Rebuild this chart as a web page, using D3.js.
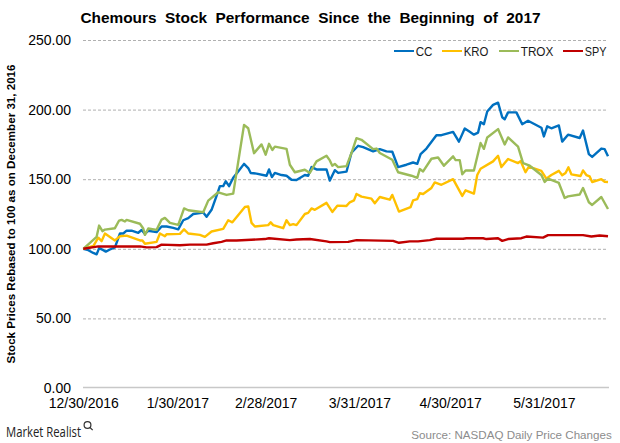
<!DOCTYPE html>
<html><head><meta charset="utf-8">
<script src="https://cdnjs.cloudflare.com/ajax/libs/d3/7.8.5/d3.min.js"></script>
<style>
html,body{margin:0;padding:0;background:#fff}
svg{display:block;font-family:"Liberation Sans",Arial,sans-serif}
</style></head><body><svg id="c" width="620" height="443"></svg>
<script>
const titleText="Chemours  Stock  Performance  Since  the  Beginning  of  2017";
const yTitle="Stock Prices Rebased to 100 as on December 31, 2016";
const sourceText="Source: NASDAQ Daily Price Changes";
const logoText="Market Realist";
const seriesNames=["CC","KRO","TROX","SPY"];
const seriesColors=["#0070c0","#ffc000","#9bbb59","#c00000"];
const yTicks=[0,50,100,150,200,250];
const tickSessions=[0,22.6,43.8,66.3,88.1,110.6];
const tickLabels=["12/30/2016","1/30/2017","2/28/2017","3/31/2017","4/30/2017","5/31/2017"];

const ccSessions=[0,1.2,2.4,3.2,3.8,4.8,5.4,6.4,7.6,8.8,9.6,10.4,11.6,13.2,14,14.8,15.6,17.6,18.8,20,21.6,22.8,24,25.2,26.4,28.8,29.6,30.8,32,32.8,33.6,34.2,35,36,37.2,38.6,39.6,40.2,41.6,44,44.6,45.3,46,47.6,48.8,50,51.2,53.2,54,54.8,56,58.4,59.2,60.4,61.2,63.2,64.4,66,67.2,69.6,71.2,72.8,74.2,75.6,77.6,79.2,80.2,81,82.4,84.8,86,88.8,90.2,91.6,92.8,93.8,94.8,95.4,96.2,97,98.4,99.6,100.6,101.2,102,104,105.4,106.8,110,110.6,111.4,112.4,114.2,115,116.4,119.2,120,121.4,122.2,124.4,125.2,126];
const ccValues=[100,99,97,96,100.5,99,98,99.5,101,111,111,113,113,111.5,113.5,110.7,113,112,116,116,115,114,120.5,122,125,126,123,128,138,145,145,148.5,145,151,155.6,161,158,154.5,154,152.5,157,151.5,154.5,153,152.5,149.6,149.4,153,152.5,158.7,157,157,149,156.5,154.5,155.4,169,174,173,170,171.6,170,169.7,158.7,160.4,162,161,168,172,181.6,181.6,184,177,186.4,184,182,183.5,191,189.5,198.6,203.4,205,194.5,193,198,198,189.5,192,187,180.7,188,186.6,188.6,177,182,179.6,185,168,166,172,171.6,166.4];

const kroSessions=[0,2.4,3.6,4.4,5.2,7.6,8.8,10.4,13.6,14.2,14.8,17.6,18.4,19.6,20,23.2,24.2,25.2,28,29.2,30.8,33.6,34.8,35.8,38.8,39.6,40.4,41.2,44.4,45,45.6,48,48.8,49.6,50.4,51.2,53.2,54,54.8,55.6,58.4,59.8,61,63.2,64,65,65.6,66.8,69.2,70,71.2,73.6,74.2,75.8,78.6,79.2,80.2,80.8,81.6,83.6,84.4,86,88.8,91,91.8,93.8,94.6,95.4,98.4,99.6,100.4,102,104.4,105,106.2,107,110,111.2,112.4,114.2,115,115.8,116.5,117.2,119.4,120,120.8,121.6,122.2,124.4,125.2,126];
const kroValues=[100,102,108,105.5,111,106,109,109.5,106,106,103.6,105,111,109,110.5,110.7,114,111,110,108.6,112.4,114.3,120.5,119,130,130.5,118.6,116,117,119,117,114.8,120.5,117,117.7,117,125,125.8,129,128,133,126.5,131,130.8,133.4,134.8,139.4,137.5,136,132.7,137.2,135.3,138.7,126.7,130,134.8,135.7,139.9,139.4,143.7,147.7,146,150,138,142,139.6,153,157.5,162.8,166.8,158.7,164.5,161.6,163,155,159,156,150.4,153,156,152.8,154.5,158.5,153.5,152.3,156.3,153,152,148,150,148.2,148];

const troxSessions=[0,3.2,3.8,4.6,5.2,7.6,8.6,9.2,10,10.4,13.6,14.4,14.8,15.6,17.6,18.8,19.6,20.8,22.8,24.2,25.2,28.8,30,32.4,34.4,36,38.6,39.6,41,42.8,43.8,44.6,45.4,46,48.8,49.6,50.8,53.2,54.4,56,58.4,59.2,59.8,60.4,61.2,63.2,64.4,65.6,66.8,69.6,70.4,71.2,74.2,75.6,78.8,80.2,80.8,81.6,83.6,85.2,86.6,88.8,89.4,90.4,91,91.8,93.8,95.4,96.2,97,99.6,101.2,102,104.4,105.6,107.2,110,110.8,111.6,114.2,115.6,116.4,119.2,120,121.4,122.2,124.4,126];
const troxValues=[100,108.6,116.7,112.7,113.8,114.8,120.3,120.8,119.6,120.8,118,114.6,110,114.6,113.6,121,122.2,118.6,117.2,129,127.7,126.3,134.6,140.6,138.7,139.6,189,186.6,168.7,175,167.6,175.4,171,173.4,171.8,160.4,155,156.8,154.5,162.8,166.8,163.5,159.7,161,158.7,159.4,168.8,179.5,178.3,171.6,172,168.8,164,155,152.5,151,157.3,155.6,164.7,165.6,159.7,166.4,163.7,163.7,153.5,156.3,156.3,176,171.8,180,186,175,180,173.4,161.6,159.7,153,148,150.4,147.3,136.5,137.7,139,143.7,133.4,131.5,137.2,128.6];

const spySessions=[0,3.6,13.6,15.2,17.6,18.8,23.2,25.6,29.6,31.2,33.2,34.4,36.8,43.6,44.6,49.6,51.2,54.4,58.4,59.2,63.6,65.6,74.4,75.8,78.4,80.4,83.2,84.8,91.2,92,96,96.8,99.6,100.6,102,105.2,106.4,110.4,111.6,120,122,124,126];
const spyValues=[100,101.7,101.7,101,101.2,103,102.6,103,103,104,105,106,106,107,107.6,106.2,106.7,107,105.3,104.8,105,106.2,105.7,104.3,105.3,105.3,106.2,107.2,107.2,107.6,107.6,107,107.6,105.7,107,107.6,108.8,108,109.8,109.8,108.8,109.6,109];

const svg=d3.select("#c");
const x=d3.scaleLinear().domain([0,126]).range([83.3,608]);
const y=d3.scaleLinear().domain([0,250]).range([388,40]);

svg.append("text").attr("x",310.5).attr("y",22.5).attr("text-anchor","middle")
  .attr("font-size",15.4).attr("font-weight","bold").attr("fill","#000").style("white-space","pre").text(titleText);

const ya=svg.append("g").attr("transform","translate(83,0)")
  .call(d3.axisLeft(y).tickValues(yTicks).tickFormat(d3.format(".2f")).tickSize(0).tickPadding(12));
ya.select(".domain").remove();
ya.selectAll("text").attr("font-size",14).attr("font-family","Liberation Sans").attr("fill","#000");

const grid=svg.append("g").attr("transform","translate(83,0)")
  .call(d3.axisLeft(y).tickValues(yTicks.filter(d=>d>0)).tickFormat("").tickSize(-525));
grid.select(".domain").remove();
grid.selectAll("line").attr("stroke","#b0b0b0").attr("stroke-width",1).attr("stroke-dasharray","3 2");

const xa=svg.append("g").attr("transform","translate(0,387.5)")
  .call(d3.axisBottom(x).tickValues(tickSessions).tickFormat((d,i)=>tickLabels[i]).tickSize(0).tickPadding(11));
xa.select(".domain").attr("stroke","#c8c8c8").attr("stroke-width",1.5).attr("d","M83,0H609");
xa.selectAll("text").attr("font-size",14).attr("font-family","Liberation Sans").attr("fill","#000");

const line=d3.line().x(d=>x(d[0])).y(d=>y(d[1])).curve(d3.curveLinear);
const data=[[ccSessions,ccValues],[kroSessions,kroValues],[troxSessions,troxValues],[spySessions,spyValues]];
data.forEach(([s,v],i)=>{
  svg.append("path").datum(d3.zip(s,v)).attr("d",line).attr("fill","none")
    .attr("stroke",seriesColors[i]).attr("stroke-width",2.4).attr("stroke-linejoin","round");
});

const legendLeft=[394,442,499,563], legendRight=[414,462,519,583], legendWidths=[16.7,24.7,32.7,21.7];
seriesNames.forEach((n,i)=>{
  svg.append("line").attr("x1",legendLeft[i]).attr("x2",legendRight[i]).attr("y1",51).attr("y2",51)
    .attr("stroke",seriesColors[i]).attr("stroke-width",2);
  svg.append("text").attr("x",legendRight[i]+1.7).attr("y",55.5).attr("font-size",13)
    .attr("textLength",legendWidths[i]).attr("lengthAdjust","spacingAndGlyphs").attr("fill","#1a1a1a").text(n);
});

svg.append("text").attr("transform","translate(15,214) rotate(-90)").attr("text-anchor","middle")
  .attr("font-size",11.6).attr("font-weight","bold").attr("fill","#000").text(yTitle);

svg.append("text").attr("x",611.7).attr("y",438.7).attr("text-anchor","end")
  .attr("font-size",11.6).attr("fill","#8c8c8c").text(sourceText);

svg.append("text").attr("x",6).attr("y",436.5).attr("font-size",14).attr("font-family","Open Sans")
  .attr("textLength",75).attr("lengthAdjust","spacingAndGlyphs").attr("fill","#222").text(logoText);
const icon=svg.append("g").attr("stroke","#333").attr("fill","none").attr("stroke-width",1.2);
icon.append("circle").attr("cx",87.5).attr("cy",425).attr("r",3.4);
icon.append("line").attr("x1",90).attr("y1",427.5).attr("x2",92.7).attr("y2",430.2);
</script></body></html>
